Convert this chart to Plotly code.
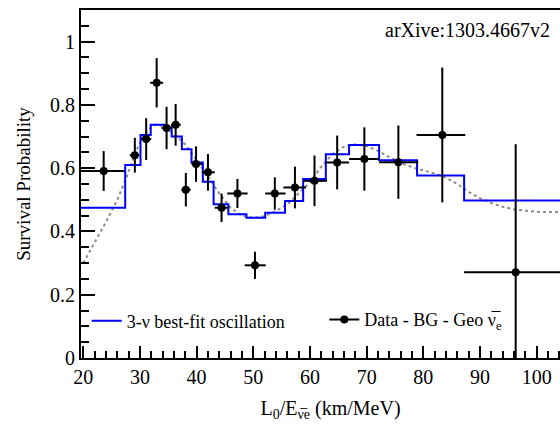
import plotly.graph_objects as go

# ---- data ----
# measured points (Data - BG - Geo anti-nu_e)
x_data = [23.6, 29.1, 31.1, 32.95, 34.7, 36.3, 38.1, 39.9, 42.0, 44.4,
          47.2, 50.3, 53.8, 57.35, 60.8, 64.8, 69.6, 75.6, 83.35, 96.3]
y_data = [0.591, 0.641, 0.692, 0.870, 0.727, 0.737, 0.532, 0.613, 0.587, 0.475,
          0.520, 0.293, 0.520, 0.539, 0.560, 0.618, 0.629, 0.619, 0.705, 0.271]
y_err = [0.063, 0.055, 0.066, 0.078, 0.067, 0.066, 0.053, 0.056, 0.058, 0.045,
         0.046, 0.043, 0.051, 0.066, 0.080, 0.085, 0.100, 0.116, 0.213, 0.405]
x_lo = [19.5, 28.2, 30.2, 31.8, 33.8, 35.5, 37.3, 39.1, 40.9, 43.2,
        45.4, 48.5, 52.1, 55.3, 58.8, 62.8, 66.9, 72.2, 78.8, 87.2]
x_hi = [27.3, 29.9, 32.0, 34.1, 35.65, 37.2, 38.95, 40.95, 43.2, 45.6,
        49.0, 52.2, 55.7, 59.3, 63.0, 66.9, 72.2, 79.1, 87.4, 105.4]

# 3-nu best-fit oscillation (binned, step histogram)
fit_edges = [19.6, 27.4, 30.1, 31.9, 34.3, 35.6, 37.4, 39.1, 41.1, 43.0, 45.6,
             48.8, 52.1, 55.6, 58.8, 62.8, 66.9, 72.2, 78.9, 87.2, 108.0]
fit_vals = [0.475, 0.610, 0.705, 0.737, 0.730, 0.700, 0.660, 0.618, 0.557, 0.486,
            0.454, 0.443, 0.459, 0.496, 0.566, 0.644, 0.673, 0.625, 0.577, 0.498]

# unbinned oscillation curve (grey dotted)
curve_x = [20.0, 22.0, 24.0, 26.0, 27.5, 29.0, 30.5, 32.0, 33.0, 34.5, 36.0, 38.0,
           40.0, 42.0, 44.0, 46.0, 48.0, 50.0, 52.0, 54.0, 56.0, 58.0, 60.0, 62.0,
           64.0, 66.0, 68.0, 70.0, 72.0, 74.0, 76.0, 78.0, 80.0, 82.0, 84.0, 86.0,
           88.0, 90.0, 92.0, 94.0, 96.0, 98.0, 100.0, 104.0, 108.0]
curve_y = [0.300, 0.365, 0.430, 0.500, 0.565, 0.640, 0.700, 0.730, 0.740, 0.728, 0.708, 0.675,
           0.625, 0.575, 0.520, 0.475, 0.450, 0.443, 0.448, 0.465, 0.485, 0.520, 0.555, 0.605,
           0.645, 0.668, 0.675, 0.670, 0.655, 0.635, 0.617, 0.603, 0.593, 0.583, 0.570, 0.550,
           0.525, 0.505, 0.490, 0.478, 0.470, 0.465, 0.462, 0.461, 0.461]

x_ticks = [20, 30, 40, 50, 60, 70, 80, 90, 100]

err_plus = [h - x for h, x in zip(x_hi, x_data)]
err_minus = [x - l for l, x in zip(x_lo, x_data)]

FONT = "Liberation Serif"

fig = go.Figure()
fig.add_trace(go.Scatter(
    x=curve_x, y=curve_y, mode="lines",
    line=dict(color="#8c8c8c", width=2, dash="dot"),
    showlegend=False, hoverinfo="skip"))
fig.add_trace(go.Scatter(
    x=fit_edges, y=fit_vals + [fit_vals[-1]], mode="lines",
    line=dict(color="#0000ff", width=2, shape="hv"),
    name="3-ν best-fit oscillation", legend="legend"))
fig.add_trace(go.Scatter(
    x=x_data, y=y_data, mode="markers",
    marker=dict(color="black", size=8),
    error_x=dict(type="data", symmetric=False, array=err_plus, arrayminus=err_minus,
                 color="black", thickness=2, width=0),
    error_y=dict(type="data", array=y_err, color="black", thickness=2, width=0),
    showlegend=False))
fig.add_trace(go.Scatter(
    x=[None], y=[None], mode="lines+markers",
    line=dict(color="black", width=2), marker=dict(color="black", size=8),
    name="Data - BG - Geo ν\u0305<sub>e</sub>", legend="legend2"))

# plot area runs past the right edge of the 560px window (cropped, as in the reference)
fig.update_layout(
    width=580, height=427,
    margin=dict(l=81, r=0, t=10, b=69),
    plot_bgcolor="white", paper_bgcolor="white",
    font=dict(family=FONT, size=20, color="black"),
    xaxis=dict(
        range=[19.6, 107.65], tickmode="array", tickvals=x_ticks,
        ticks="inside", ticklen=12, tickwidth=2, tickcolor="black",
        showline=True, linewidth=2, linecolor="black", mirror=True,
        showgrid=False, zeroline=False,
        minor=dict(tick0=20, dtick=2, ticks="inside", ticklen=7, tickwidth=1.5,
                   tickcolor="black", showgrid=False),
        title=dict(text="L<sub>0</sub>/E<sub>ν\u0305e</sub> (km/MeV)", font=dict(size=20), standoff=14),
    ),
    yaxis=dict(
        range=[0, 1.1], tick0=0, dtick=0.2,
        ticks="inside", ticklen=14, tickwidth=2, tickcolor="black",
        showline=True, linewidth=2, linecolor="black", mirror=False,
        showgrid=False, zeroline=False,
        minor=dict(tick0=0, dtick=0.05, ticks="inside", ticklen=8, tickwidth=1.5,
                   tickcolor="black", showgrid=False),
        title=dict(text="Survival Probability", font=dict(size=19), standoff=14),
    ),
    legend=dict(x=0.0115, y=0.106, xanchor="left", yanchor="middle",
                bgcolor="rgba(0,0,0,0)", font=dict(size=18), itemwidth=30),
    legend2=dict(x=0.4876, y=0.11, xanchor="left", yanchor="middle",
                 bgcolor="rgba(0,0,0,0)", font=dict(size=18), itemwidth=30),
    annotations=[dict(text="arXive:1303.4667v2", xref="paper", yref="paper",
                      x=0.944, y=0.98, xanchor="right", yanchor="top",
                      showarrow=False, font=dict(size=20, family=FONT))],
)

fig.write_html(
    "out.html", config={"displayModeBar": False},
    post_script=("document.documentElement.style.overflow='hidden';"
                 "document.body.style.overflow='hidden';"
                 "document.body.style.margin='0';"))
